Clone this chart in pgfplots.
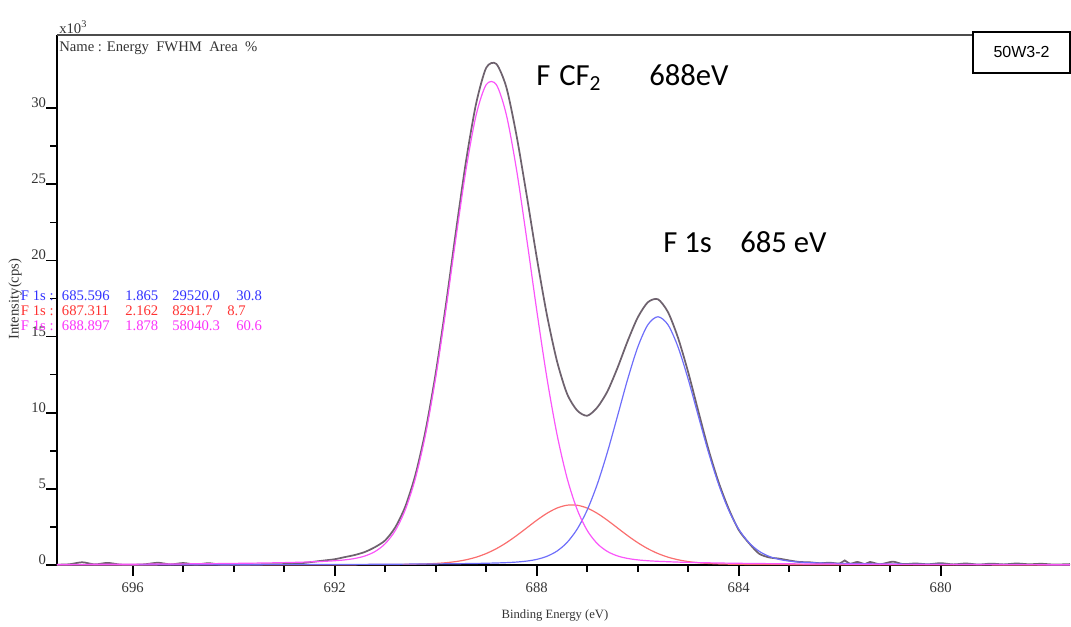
\documentclass[border=0pt]{standalone}
\usepackage{fontspec}
\setmainfont{Liberation Serif}
\newfontfamily\carlito{Carlito}
\newfontfamily\arialf{Liberation Sans}
\usepackage{pgfplots}
\usepackage{pgfplotstable}
\pgfplotsset{compat=1.18}

\definecolor{fitmag}{RGB}{250,85,250}
\definecolor{fitred}{RGB}{250,110,110}
\definecolor{fitblue}{RGB}{110,110,250}
\definecolor{datacol}{RGB}{110,98,110}
\definecolor{txtblue}{RGB}{50,50,255}
\definecolor{txtred}{RGB}{255,50,50}
\definecolor{txtmag}{RGB}{250,50,250}

% measured spectrum (counts in units of 10^3 cps)
\pgfplotstableread{
x y
697.5 0.02
697.25 0.05
697.0 0.18
696.75 0.04
696.5 0.14
696.25 0.03
696.0 0.02
695.75 0.05
695.5 0.15
695.25 0.04
695.0 0.13
694.75 0.03
694.5 0.12
694.25 0.02
694.0 0.03
693.75 0.02
693.5 0.04
693.25 0.05
693.0 0.06
692.8 0.08
692.6 0.14
692.4 0.22
692.2 0.30
692.0 0.38
691.8 0.52
691.6 0.66
691.4 0.86
691.2 1.18
691.0 1.62
690.8 2.48
690.6 3.86
690.4 5.95
690.2 8.85
690.0 12.60
689.8 17.05
689.6 21.90
689.4 26.52
689.2 30.30
689.0 32.65
688.8 32.90
688.6 31.35
688.4 28.20
688.2 24.30
688.0 20.20
687.8 16.45
687.6 13.40
687.4 11.25
687.2 10.15
687.0 9.80
686.8 10.35
686.6 11.40
686.4 12.95
686.2 14.70
686.0 16.25
685.8 17.25
685.6 17.45
685.4 16.60
685.2 14.90
685.0 12.65
684.8 10.10
684.6 7.60
684.4 5.45
684.2 3.70
684.0 2.30
683.8 1.45
683.6 0.75
683.4 0.50
683.2 0.42
683.0 0.30
682.8 0.20
682.6 0.18
682.4 0.12
682.2 0.15
682.0 0.10
681.9 0.30
681.8 0.08
681.65 0.20
681.5 0.06
681.4 0.20
681.2 0.05
680.95 0.22
680.75 0.06
680.5 0.10
680.25 0.05
680.0 0.12
679.75 0.04
679.5 0.10
679.25 0.03
679.0 0.09
678.75 0.04
678.5 0.10
678.25 0.05
678.0 0.08
677.75 0.03
677.44 0.06
}\datatab

% fitted components: magenta (688.897 eV), red (687.311 eV), blue (685.596 eV)
\pgfplotstableread{
x m r b
697.5 0.037 0.004 0.010
696.5 0.047 0.005 0.012
695.5 0.063 0.007 0.015
694.5 0.086 0.009 0.018
693.5 0.127 0.012 0.023
693.0 0.157 0.013 0.026
692.8 0.173 0.014 0.027
692.6 0.191 0.015 0.029
692.4 0.216 0.016 0.031
692.2 0.242 0.018 0.033
692.0 0.280 0.020 0.035
691.8 0.337 0.021 0.037
691.6 0.431 0.023 0.039
691.4 0.595 0.026 0.042
691.2 0.888 0.029 0.045
691.0 1.401 0.032 0.048
690.8 2.267 0.037 0.052
690.6 3.649 0.044 0.058
690.4 5.718 0.055 0.062
690.2 8.602 0.072 0.067
690.0 12.32 0.102 0.071
689.8 16.73 0.150 0.078
689.6 21.46 0.226 0.085
689.4 25.96 0.343 0.093
689.2 29.54 0.514 0.103
689.0 31.54 0.754 0.116
688.8 31.54 1.071 0.133
688.6 29.54 1.466 0.156
688.4 25.96 1.928 0.193
688.2 21.46 2.432 0.257
688.0 16.73 2.937 0.369
687.8 12.32 3.390 0.569
687.6 8.602 3.737 0.912
687.4 5.718 3.926 1.477
687.2 3.649 3.926 2.352
687.0 2.267 3.737 3.615
686.8 1.401 3.390 5.312
686.6 0.888 2.937 7.411
686.4 0.595 2.432 9.784
686.2 0.431 1.928 12.19
686.0 0.337 1.466 14.30
685.8 0.280 1.071 15.77
685.6 0.242 0.754 16.30
685.4 0.216 0.514 15.77
685.2 0.191 0.343 14.30
685.0 0.173 0.226 12.19
684.8 0.157 0.150 9.784
684.6 0.144 0.102 7.411
684.4 0.132 0.072 5.312
684.2 0.121 0.055 3.615
684.0 0.112 0.044 2.352
683.8 0.104 0.037 1.477
683.6 0.097 0.032 0.912
683.4 0.090 0.029 0.569
683.2 0.085 0.026 0.369
683.0 0.079 0.023 0.257
682.8 0.074 0.021 0.193
682.6 0.070 0.020 0.156
682.4 0.066 0.018 0.133
682.2 0.062 0.016 0.116
682.0 0.058 0.015 0.103
681.5 0.050 0.013 0.081
681.0 0.044 0.011 0.065
680.0 0.035 0.009 0.044
679.0 0.028 0.007 0.032
678.0 0.023 0.005 0.024
677.44 0.021 0.005 0.021
}\fittab

\begin{document}
\begin{tikzpicture}
\begin{axis}[
  at={(0,0)}, anchor=south west,
  scale only axis, width=759.75pt, height=397.5pt,
  xmin=677.44, xmax=697.5, x dir=reverse,
  ymin=0, ymax=34.8,
  axis x line*=bottom, axis y line*=left,
  axis line style={line width=1.4pt, -},
  xtick={680,684,688,692,696}, minor x tick num=3,
  ytick={0,5,10,15,20,25,30}, minor y tick num=1,
  tick align=outside,
  major tick length=8pt, minor tick length=5pt,
  every tick/.style={black, line width=1.2pt},
  tick label style={font=\fontsize{11}{13}\selectfont, text=black!80},
  xticklabel style={yshift=-2pt},
  yticklabel style={anchor=south east, inner sep=0pt},
  /pgf/number format/assume math mode=true,
  clip=false,
]
\addplot[datacol, line width=1.3pt, smooth, tension=0.45] table[x=x, y=y] {\datatab};
\addplot[fitred, line width=0.9pt, smooth] table[x=x, y=r] {\fittab};
\addplot[fitblue, line width=0.9pt, smooth] table[x=x, y=b] {\fittab};
\addplot[fitmag, line width=0.9pt, smooth] table[x=x, y=m] {\fittab};
\end{axis}
% top frame line
\draw[line width=1.2pt, black!70] (0,397.5pt) -- (687pt,397.5pt);
% sample box
\draw[line width=0.9pt, black] (687pt,369pt) rectangle (759.8pt,399.75pt);
\node[font=\arialf\fontsize{12}{14}\selectfont] at (723.4pt,384.4pt) {50W3-2};
% multiplier
\node[anchor=base west, inner sep=0pt, font=\fontsize{11}{13}\selectfont, text=black!80] at (1.5pt,398.8pt) {x10\textsuperscript{3}};
% header
\node[anchor=base west, inner sep=0pt, font=\fontsize{11}{13}\selectfont, text=black!80] at (1.5pt,384.75pt) {Name : Energy\ \ FWHM\ \ Area\ \ \%};
% component rows
\begin{scope}[every node/.style={anchor=base west, inner sep=0pt, font=\fontsize{11}{13}\selectfont}]
\node[text=txtblue] at (-27.2pt,198.75pt) {F 1s :};
\node[text=txtblue] at (3.5pt,198.75pt) {685.596};
\node[text=txtblue] at (51pt,198.75pt) {1.865};
\node[text=txtblue] at (86.25pt,198.75pt) {29520.0};
\node[text=txtblue] at (134.25pt,198.75pt) {30.8};
\node[text=txtred] at (-27.2pt,187.5pt) {F 1s :};
\node[text=txtred] at (3.5pt,187.5pt) {687.311};
\node[text=txtred] at (51pt,187.5pt) {2.162};
\node[text=txtred] at (86.25pt,187.5pt) {8291.7};
\node[text=txtred] at (127.5pt,187.5pt) {8.7};
\node[text=txtmag] at (-27.2pt,176.25pt) {F 1s :};
\node[text=txtmag] at (3.5pt,176.25pt) {688.897};
\node[text=txtmag] at (51pt,176.25pt) {1.878};
\node[text=txtmag] at (86.25pt,176.25pt) {58040.3};
\node[text=txtmag] at (134.25pt,176.25pt) {60.6};
\end{scope}
% axis labels
\node[rotate=90, font=\fontsize{11}{13}\selectfont, text=black!80] at (-31.5pt,199.5pt) {Intensity(cps)};
\node[font=\fontsize{9.5}{11}\selectfont, text=black!80] at (373.5pt,-38pt) {Binding Energy (eV)};
% peak annotations
\begin{scope}[every node/.style={anchor=base west, inner sep=0pt, font=\carlito\fontsize{23}{27}\selectfont}]
\node at (359.25pt,359.25pt) {F};
\node at (376.5pt,359.25pt) {CF\textsubscript{2}};
\node at (444pt,359.25pt) {688eV};
\node at (454.5pt,234.75pt) {F 1s};
\node at (512.25pt,234.75pt) {685 eV};
\end{scope}
\pgfresetboundingbox
\path (-42.75pt,-45.75pt) rectangle (760.5pt,423.75pt);
\end{tikzpicture}
\end{document}
